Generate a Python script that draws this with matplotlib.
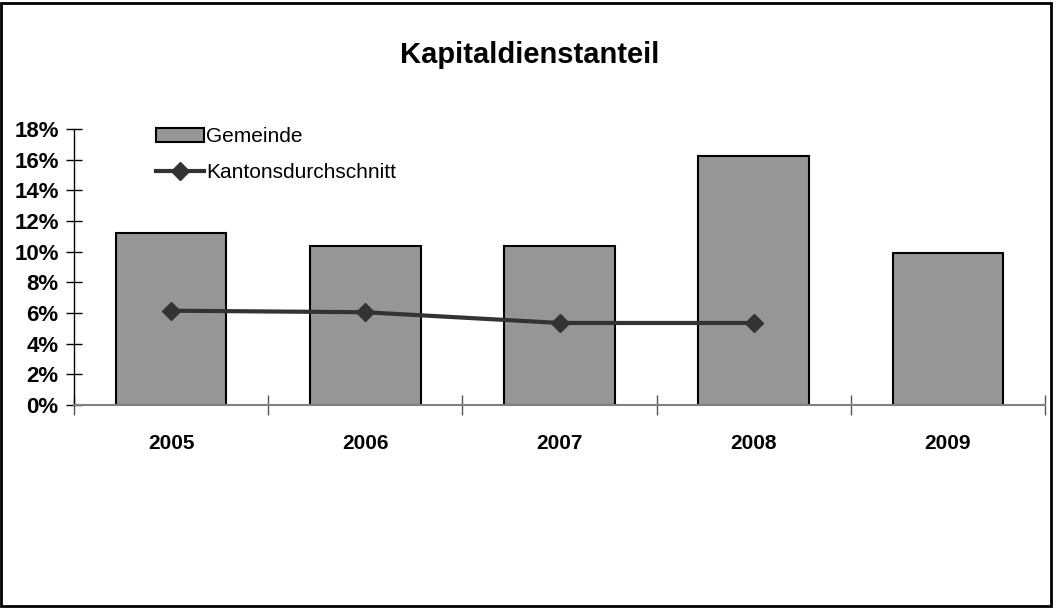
import matplotlib
matplotlib.use("Agg")
import matplotlib.pyplot as plt
from matplotlib.patches import Rectangle

years = ["2005", "2006", "2007", "2008", "2009"]
gemeinde = [11.2, 10.4, 10.4, 16.25, 9.9]
kanton = [6.15, 6.05, 5.35, 5.35]
yticks = [0, 2, 4, 6, 8, 10, 12, 14, 16, 18]

plt.rcParams['font.family'] = ['Liberation Sans', 'DejaVu Sans']

fig = plt.figure(figsize=(10.6, 6.08), dpi=100)
ax = fig.add_axes([74/1060, 1-405/608, (1045-74)/1060, 276/608])

x = list(range(len(years)))
bars = ax.bar(x, gemeinde, width=0.57, color='#969696', edgecolor='black', linewidth=1.5,
              label='Gemeinde', zorder=2)
line, = ax.plot(x[:len(kanton)], kanton, color='#333333', linewidth=3, marker='D', markersize=9,
                label='Kantonsdurchschnitt', zorder=3)

ax.set_xlim(-0.5, len(years)-0.5)
ax.set_ylim(0, 18)
ax.set_yticks(yticks)
ax.set_yticklabels([f"{v}%" for v in yticks], fontsize=16, fontweight='bold')
ax.set_xticks([i - 0.5 for i in range(len(years)+1)])
ax.set_xticklabels([])
ax.set_xticks(x, minor=True)
ax.set_xticklabels(years, minor=True, fontsize=15, fontweight='bold')
ax.tick_params(axis='x', which='minor', length=0, pad=21)
ax.tick_params(axis='x', which='major', direction='inout', length=14, width=1, color='#555555')
ax.tick_params(axis='y', direction='inout', length=12, width=1, pad=5)

for s in ['top', 'right']:
    ax.spines[s].set_visible(False)
ax.spines['left'].set_color('black')
ax.spines['left'].set_linewidth(1)
ax.spines['bottom'].set_color('#808080')
ax.spines['bottom'].set_linewidth(1.5)

leg = ax.legend([bars, line], ['Gemeinde', 'Kantonsdurchschnitt'],
                loc='upper left', bbox_to_anchor=(0.065, 1.074), frameon=False,
                prop={'size': 15}, handlelength=2.3, handletextpad=0.1, labelspacing=0.8)

fig.text(530/1060, 1-55/608, "Kapitaldienstanteil", ha='center', va='center',
         fontsize=21, fontweight='bold')

fig.add_artist(Rectangle((1/1060, 2/608), 1050/1060, 603/608, transform=fig.transFigure,
                         fill=False, edgecolor='black', linewidth=2))

fig.savefig("out.png", dpi=100)
